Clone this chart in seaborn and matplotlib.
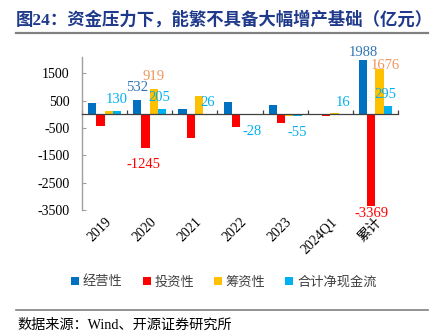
import matplotlib
matplotlib.use('Agg')
import matplotlib.pyplot as plt
import seaborn as sns
import pandas as pd
from matplotlib.patches import Patch
from matplotlib.lines import Line2D

# ---------------- data ----------------
periods = ['2019', '2020', '2021', '2022', '2023', '2024Q1', '累计']
series_names = ['经营性', '投资性', '筹资性', '合计净现金流']
operating = [430, 532, 210, 460, 340, 8, 1988]
investing = [-430, -1245, -860, -455, -320, -59, -3369]
financing = [140, 919, 670, -20, -70, 37, 1676]
net_cash = [130, 205, 26, -28, -55, 16, 295]
yticks = [1500, 500, -500, -1500, -2500, -3500]
title = '图24：资金压力下，能繁不具备大幅增产基础（亿元）'
source = '数据来源：Wind、开源证券研究所'

# which bars carry a value label: (series index, period index)
labelled = [(3, 0), (0, 1), (2, 1), (3, 1), (1, 1), (3, 2), (3, 3), (3, 4),
            (3, 5), (0, 6), (1, 6), (2, 6), (3, 6)]
# label offsets in pixels (dx, gap from bar end)
label_style = {(3, 0): (0, 8), (0, 1): (0, 9), (2, 1): (0, 9), (3, 1): (-3, 8),
               (1, 1): (-2, 10), (3, 2): (0, 8), (3, 3): (0, 10), (3, 4): (0, 10),
               (3, 5): (0, 8), (0, 6): (0, 4), (1, 6): (0, 1), (2, 6): (6, 0),
               (3, 6): (-2, 8)}

colors = ['#0070C0', '#FF0000', '#FFC000', '#00B0F0']
label_colors = ['#2E75B6', '#FF0000', '#F0955A', '#00B0F0']

all_values = [operating, investing, financing, net_cash]
df = pd.DataFrame({
    'period': periods * 4,
    'series': [s for s in series_names for _ in periods],
    'value': operating + investing + financing + net_cash,
})

SERIF = ['Liberation Serif', 'Noto Sans CJK SC']
CJK = ['Noto Sans CJK SC', 'DejaVu Sans']

W, H = 435, 336
fig = plt.figure(figsize=(W / 100, H / 100), dpi=100)
ax = fig.add_axes([82 / W, 1 - 210 / H, (398 - 82) / W, (210 - 57) / H])

sns.barplot(data=df, x='period', y='value', hue='series', order=periods,
            hue_order=series_names, palette=colors, width=0.73, saturation=1,
            errorbar=None, legend=False, ax=ax)

ax.set_xlim(-0.5, len(periods) - 0.5)
ax.set_ylim(-3500, 2100)
ax.set_xlabel('')
ax.set_ylabel('')

# y axis
ax.set_yticks(yticks)
ax.set_yticklabels([str(t) for t in yticks], family=SERIF, fontsize=10)
ax.tick_params(axis='y', direction='in', length=3, color='#A0A0A0', pad=9,
               labelcolor='#000000')
for s in ['top', 'right']:
    ax.spines[s].set_visible(False)
ax.spines['left'].set_color('#A0A0A0')
ax.spines['left'].set_linewidth(1.0)

# x axis line at zero with boundary ticks
ax.spines['bottom'].set_position(('data', 0))
ax.spines['bottom'].set_color('#404040')
ax.spines['bottom'].set_linewidth(0.9)
ax.set_xticks([i - 0.5 for i in range(len(periods) + 1)])
ax.set_xticklabels([])
ax.tick_params(axis='x', direction='in', length=3, color='#404040', width=0.9)

# category labels at the bottom
sec = ax.secondary_xaxis('bottom')
sec.set_xticks(range(len(periods)))
sec.set_xticklabels(periods, rotation=45, ha='right', rotation_mode='anchor',
                    family=SERIF, fontsize=10)
sec.tick_params(length=0, pad=4)
sec.spines['bottom'].set_visible(False)

# value labels
for si, pi in labelled:
    bar = ax.containers[si][pi]
    x = bar.get_x() + bar.get_width() / 2
    h = bar.get_height()
    dx, gap = label_style[(si, pi)]
    v = all_values[si][pi]
    if v >= 0:
        ax.annotate(str(v), xy=(x, h), xytext=(dx, gap), textcoords='offset pixels',
                    ha='center', va='baseline', color=label_colors[si],
                    family=SERIF, fontsize=10.5)
    else:
        ax.annotate(str(v), xy=(x, h), xytext=(dx, -gap), textcoords='offset pixels',
                    ha='center', va='top', color=label_colors[si],
                    family=SERIF, fontsize=10.5)

# legend
handles = [Patch(facecolor=c, edgecolor='none') for c in colors]
fig.legend(handles, series_names, loc='center', bbox_to_anchor=(224 / W, 1 - 282 / H),
           ncol=4, frameon=False, handlelength=0.6, handleheight=0.6,
           handletextpad=0.3, columnspacing=1.5,
           prop={'family': CJK, 'size': 9.5}, labelcolor='#404040')

# title, rules, source
fig.text(16 / W, 1 - 20 / H, title, ha='left', va='center', color='#1F3A8A',
         fontsize=12.5, fontweight='bold', family=['Liberation Serif', 'Noto Sans CJK SC'])
fig.add_artist(Line2D([16 / W, 428 / W], [1 - 33 / H] * 2, transform=fig.transFigure,
                      color='#808080', linewidth=1.6))
fig.add_artist(Line2D([16 / W, 428 / W], [1 - 310 / H] * 2, transform=fig.transFigure,
                      color='#808080', linewidth=1.2))
fig.text(17 / W, 1 - 325 / H, source, ha='left', va='center', color='#000000',
         fontsize=10.2, family=['Liberation Serif', 'Noto Sans CJK SC'])

fig.savefig('out.png', dpi=100)
